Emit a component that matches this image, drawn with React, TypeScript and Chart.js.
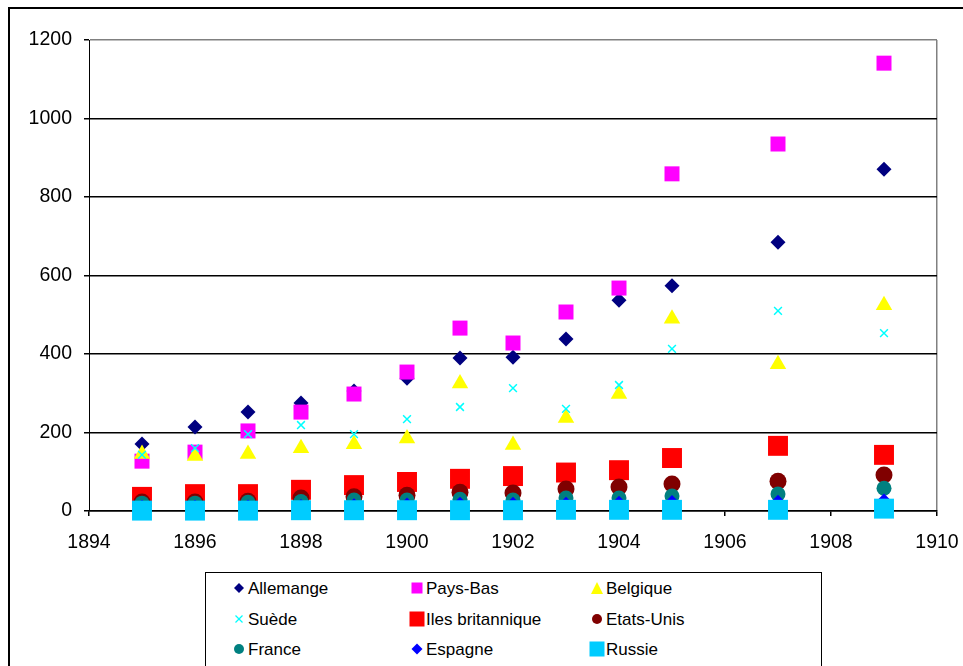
import React, { useEffect, useRef } from "react";
import { Chart, registerables } from "chart.js";

Chart.register(...registerables);

// ---- data ----
const years = [1895, 1896, 1897, 1898, 1899, 1900, 1901, 1902, 1903, 1904, 1905, 1907, 1909];

const seriesNames = [
  "Allemange",
  "Pays-Bas",
  "Belgique",
  "Suède",
  "Iles britannique",
  "Etats-Unis",
  "France",
  "Espagne",
  "Russie",
];

const allemange = [171, 214, 252, 275, 306, 338, 390, 392, 438, 537, 574, 685, 871];
const paysBas = [127, 150, 204, 252, 298, 354, 466, 428, 507, 568, 859, 935, 1141];
const belgique = [145, 140, 145, 160, 170, 185, 325, 168, 237, 298, 490, 374, 524];
const suede = [143, 160, 196, 219, 196, 234, 265, 313, 260, 321, 413, 510, 453];
const ilesBritannique = [36, 43, 43, 54, 66, 74, 82, 89, 98, 104, 135, 166, 143];
const etatsUnis = [23, 23, 25, 33, 36, 40, 48, 46, 56, 61, 69, 76, 92];
const france = [20, 20, 22, 24, 28, 28, 30, 28, 33, 33, 38, 43, 58];
const espagne = [12, 12, 13, 14, 16, 18, 20, 20, 20, 22, 24, 25, 28];
const russie = [1, 1, 1, 2, 2, 2, 2, 2, 3, 3, 3, 3, 6];

const seriesValues = [allemange, paysBas, belgique, suede, ilesBritannique, etatsUnis, france, espagne, russie];

const yTicks = [0, 200, 400, 600, 800, 1000, 1200];
const xTicks = [1894, 1896, 1898, 1900, 1902, 1904, 1906, 1908, 1910];

// ---- styles ----
const FONT = "'Liberation Sans', Arial, Helvetica, sans-serif";

type MarkStyle = { color: string; shape: string; radius: number; legendSize: number };
const markStyles: MarkStyle[] = [
  { color: "#000080", shape: "rectRot", radius: 7.5, legendSize: 10 },
  { color: "#FF00FF", shape: "rect", radius: 10.6, legendSize: 11 },
  { color: "#FFFF00", shape: "triangle", radius: 9.5, legendSize: 12 },
  { color: "#00FFFF", shape: "crossRot", radius: 5.5, legendSize: 7 },
  { color: "#FF0000", shape: "rect", radius: 14.1, legendSize: 15 },
  { color: "#800000", shape: "circle", radius: 8.5, legendSize: 10 },
  { color: "#008080", shape: "circle", radius: 7.5, legendSize: 10 },
  { color: "#0000FF", shape: "rectRot", radius: 6.5, legendSize: 11 },
  { color: "#00CCFF", shape: "rect", radius: 14.1, legendSize: 15 },
];

const legendColX = [239, 417, 597];
const legendTextX = [248, 426, 606];
const legendRowY = [588, 619, 649];

function Marker({ style, cx, cy }: { style: MarkStyle; cx: number; cy: number }) {
  const s = style.legendSize;
  const h = s / 2;
  let shape: React.ReactNode = null;
  const c = 10;
  if (style.shape === "rectRot") {
    shape = <polygon points={`${c},${c - h} ${c + h},${c} ${c},${c + h} ${c - h},${c}`} fill={style.color} />;
  } else if (style.shape === "rect") {
    shape = <rect x={c - h} y={c - h} width={s} height={s} fill={style.color} />;
  } else if (style.shape === "triangle") {
    shape = <polygon points={`${c},${c - h} ${c + h},${c + h} ${c - h},${c + h}`} fill={style.color} />;
  } else if (style.shape === "crossRot") {
    shape = (
      <g stroke={style.color} strokeWidth={1.3}>
        <line x1={c - h} y1={c - h} x2={c + h} y2={c + h} />
        <line x1={c - h} y1={c + h} x2={c + h} y2={c - h} />
      </g>
    );
  } else if (style.shape === "circle") {
    shape = <circle cx={c} cy={c} r={h} fill={style.color} />;
  }
  return (
    <svg
      width={20}
      height={20}
      style={{ position: "absolute", left: cx - 10, top: cy - 10, overflow: "visible" }}
    >
      {shape}
    </svg>
  );
}

export default function App() {
  const canvasRef = useRef<HTMLCanvasElement | null>(null);

  useEffect(() => {
    const canvas = canvasRef.current;
    if (!canvas) return;
    const datasets = seriesNames.map((name, i) => {
      const st = markStyles[i];
      const isCross = st.shape === "crossRot";
      return {
        label: name,
        data: years.map((yr, j) => ({ x: yr, y: seriesValues[i][j] })),
        pointStyle: st.shape as any,
        pointRadius: st.radius,
        pointHoverRadius: st.radius,
        backgroundColor: st.color,
        borderColor: st.color,
        borderWidth: isCross ? 1.5 : 0,
        pointBorderWidth: isCross ? 1.5 : 0,
        showLine: false,
        clip: false as any,
        order: 9 - i,
      };
    });

    const chart = new Chart(canvas, {
      type: "scatter",
      data: { datasets },
      options: {
        animation: false,
        responsive: false,
        devicePixelRatio: 1,
        layout: { padding: { top: 40, right: 26, bottom: 115, left: 0 } },
        plugins: {
          legend: { display: false },
          tooltip: { enabled: false },
          title: { display: false },
        },
        scales: {
          x: {
            type: "linear",
            min: xTicks[0],
            max: xTicks[xTicks.length - 1],
            afterBuildTicks: (scale: any) => {
              scale.ticks = xTicks.map((v) => ({ value: v }));
            },
            afterFit: (scale: any) => {
              scale.height = 40;
              scale.paddingLeft = 0;
              scale.paddingRight = 0;
            },
            ticks: {
              callback: (v: any) => String(v),
              color: "#000",
              font: { family: FONT, size: 19.5 },
              padding: 15,
              maxRotation: 0,
              autoSkip: false,
            },
            grid: {
              drawOnChartArea: true,
              drawTicks: true,
              tickLength: 5,
              lineWidth: 1.5,
              color: (ctx: any) => (ctx.tick && ctx.tick.value === 1910 ? "#808080" : "rgba(0,0,0,0)"),
              tickColor: "#000",
            },
            border: { display: true, color: "#000", width: 1.5 },
          },
          y: {
            type: "linear",
            min: yTicks[0],
            max: yTicks[yTicks.length - 1],
            afterBuildTicks: (scale: any) => {
              scale.ticks = yTicks.map((v) => ({ value: v }));
            },
            afterFit: (scale: any) => {
              scale.width = 89;
              scale.paddingTop = 0;
              scale.paddingBottom = 0;
            },
            ticks: {
              callback: (v: any) => String(v),
              color: "#000",
              font: { family: FONT, size: 19.5 },
              padding: 12,
              autoSkip: false,
            },
            grid: {
              drawTicks: true,
              tickLength: 5,
              lineWidth: 1.5,
              color: (ctx: any) => (ctx.tick && ctx.tick.value === 1200 ? "#808080" : "#000"),
              tickColor: "#000",
            },
            border: { display: true, color: "#000", width: 1 },
          },
        },
      },
    });
    return () => chart.destroy();
  }, []);

  return (
    <div
      style={{
        position: "fixed",
        left: 0,
        top: 0,
        width: 963,
        height: 666,
        overflow: "hidden",
        background: "#fff",
      }}
    >
      <div
        style={{
          position: "absolute",
          left: 8,
          top: 7,
          width: 1200,
          height: 1000,
          border: "2px solid #000",
          boxSizing: "border-box",
        }}
      />
      <canvas
        ref={canvasRef}
        width={963}
        height={666}
        style={{ position: "absolute", left: 0, top: 0, width: 963, height: 666 }}
      />
      <div
        style={{
          position: "absolute",
          left: 205,
          top: 572,
          width: 617,
          height: 200,
          border: "1px solid #000",
          boxSizing: "border-box",
          background: "#fff",
        }}
      />
      {seriesNames.map((name, i) => {
        const col = i % 3;
        const row = Math.floor(i / 3);
        return (
          <React.Fragment key={name}>
            <Marker style={markStyles[i]} cx={legendColX[col]} cy={legendRowY[row]} />
            <div
              style={{
                position: "absolute",
                left: legendTextX[col],
                top: legendRowY[row] - 9,
                fontFamily: FONT,
                fontSize: 17,
                lineHeight: "20px",
                color: "#000",
                whiteSpace: "nowrap",
              }}
            >
              {name}
            </div>
          </React.Fragment>
        );
      })}
    </div>
  );
}
